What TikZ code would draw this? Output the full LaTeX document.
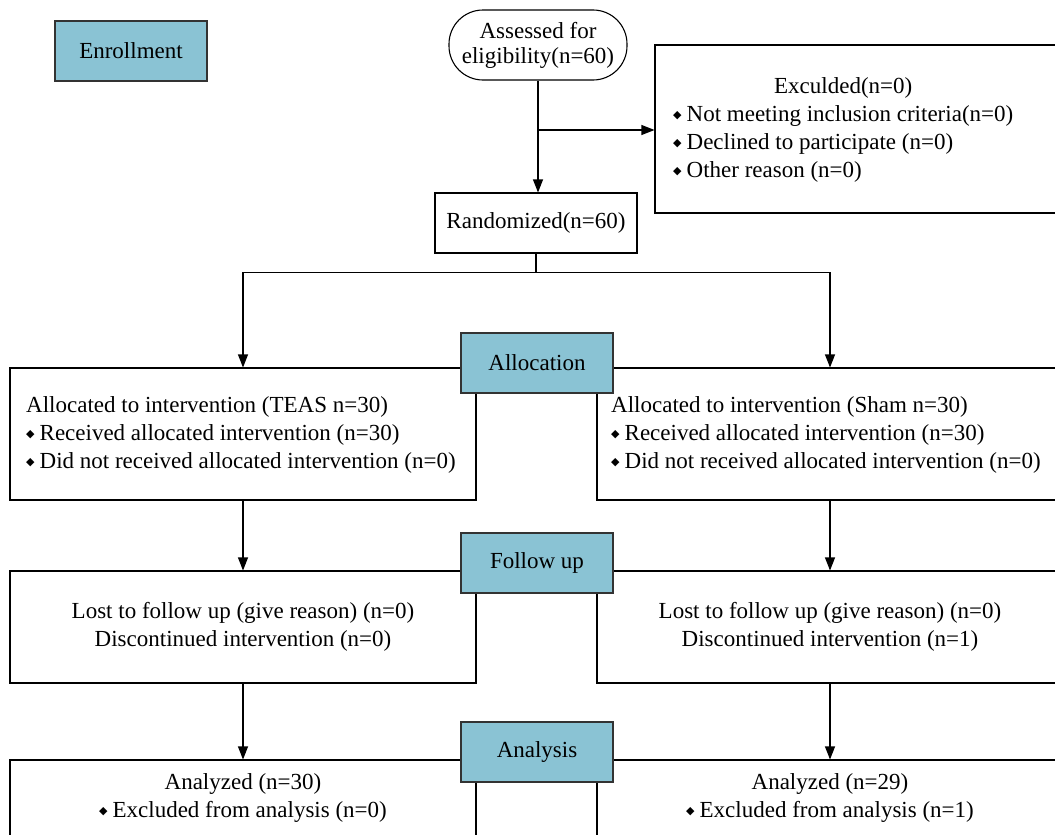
\documentclass[tikz,border=0pt]{standalone}
\usepackage{fontspec}
\setmainfont{Liberation Serif}
\newfontfamily\symfont{DejaVu Sans}
\usetikzlibrary{arrows.meta}
\definecolor{stageblue}{HTML}{8AC3D4}
\newcommand{\dia}{\raisebox{3.5pt}{\symfont\fontsize{11}{11}\selectfont ◆}\hspace{5pt}}
\tikzset{
  box/.style={draw, line width=1.1pt, fill=white, inner sep=0pt},
  stage/.style={draw=black!80, line width=1.4pt, fill=stageblue, inner sep=0pt,
    minimum width=152pt, minimum height=60pt},
  txt/.style={inner sep=0pt, align=left},
  flow/.style={line width=1.1pt, -{Triangle[length=13pt,width=10pt]}}
}
\begin{document}
\begin{tikzpicture}[x=1pt, y=-1pt, font=\fontsize{23}{28}\selectfont]
  \useasboundingbox (0,0) rectangle (1055,835);
  \clip (0,0) rectangle (1055,835);

  \node[stage] (E) at (131,51) {Enrollment};
  \node[box, rounded corners=34pt, minimum width=178pt, minimum height=70pt,
    align=center, font=\fontsize{23}{25}\selectfont] (A) at (538,45)
    {Assessed for\\eligibility(n=60)};
  \node[box, minimum width=420pt, minimum height=168pt] (X) at (865,129) {};
  \node[txt, anchor=west] (Xt) at (673,130)
    {\begin{tabular}{@{}l@{}}
      \multicolumn{1}{c}{Exculded(n=0)}\\
      \dia Not meeting inclusion criteria(n=0)\\
      \dia Declined to participate (n=0)\\
      \dia Other reason (n=0)
    \end{tabular}};
  \node[box, minimum width=202pt, minimum height=60pt] (R) at (536,223) {Randomized(n=60)};

  \node[box, minimum width=466pt, minimum height=132pt] (L1) at (243,434) {};
  \node[box, minimum width=466pt, minimum height=132pt] (R1) at (830,434) {};
  \node[txt, anchor=west] (L1t) at (26,435)
    {Allocated to intervention (TEAS n=30)\\
     \dia Received allocated intervention (n=30)\\
     \dia Did not received allocated intervention (n=0)};
  \node[txt, anchor=west] (R1t) at (611,435)
    {Allocated to intervention (Sham n=30)\\
     \dia Received allocated intervention (n=30)\\
     \dia Did not received allocated intervention (n=0)};

  \node[box, minimum width=466pt, minimum height=112pt, align=center] (L2) at (243,627)
    {Lost to follow up (give reason) (n=0)\\Discontinued intervention (n=0)};
  \node[box, minimum width=466pt, minimum height=112pt, align=center] (R2) at (830,627)
    {Lost to follow up (give reason) (n=0)\\Discontinued intervention (n=1)};

  \node[box, minimum width=466pt, minimum height=100pt] (L3) at (243,810) {};
  \node[box, minimum width=466pt, minimum height=100pt] (R3) at (830,810) {};
  \node[txt, align=center] (L3t) at (243,798) {Analyzed (n=30)\\\dia Excluded from analysis (n=0)};
  \node[txt, align=center] (R3t) at (830,798) {Analyzed (n=29)\\\dia Excluded from analysis (n=1)};

  \node[stage] (S1) at (537,363) {Allocation};
  \node[stage] (S2) at (537,563) {Follow up};
  \node[stage] (S3) at (537,752) {Analysis};

  \draw[flow] (A.south) -- (A.south |- R.north);
  \coordinate (split) at (A.south |- 0,130);
  \draw[flow] (split) -- (split -| X.west);
  \draw[line width=1.1pt] (R.south) -- ++(0,19) coordinate (fork);
  \draw[flow] (fork) -| (L1.north);
  \draw[flow] (fork) -| (R1.north);
  \draw[flow] (L1.south) -- (L2.north);
  \draw[flow] (R1.south) -- (R2.north);
  \draw[flow] (L2.south) -- (L3.north);
  \draw[flow] (R2.south) -- (R3.north);
\end{tikzpicture}
\end{document}
